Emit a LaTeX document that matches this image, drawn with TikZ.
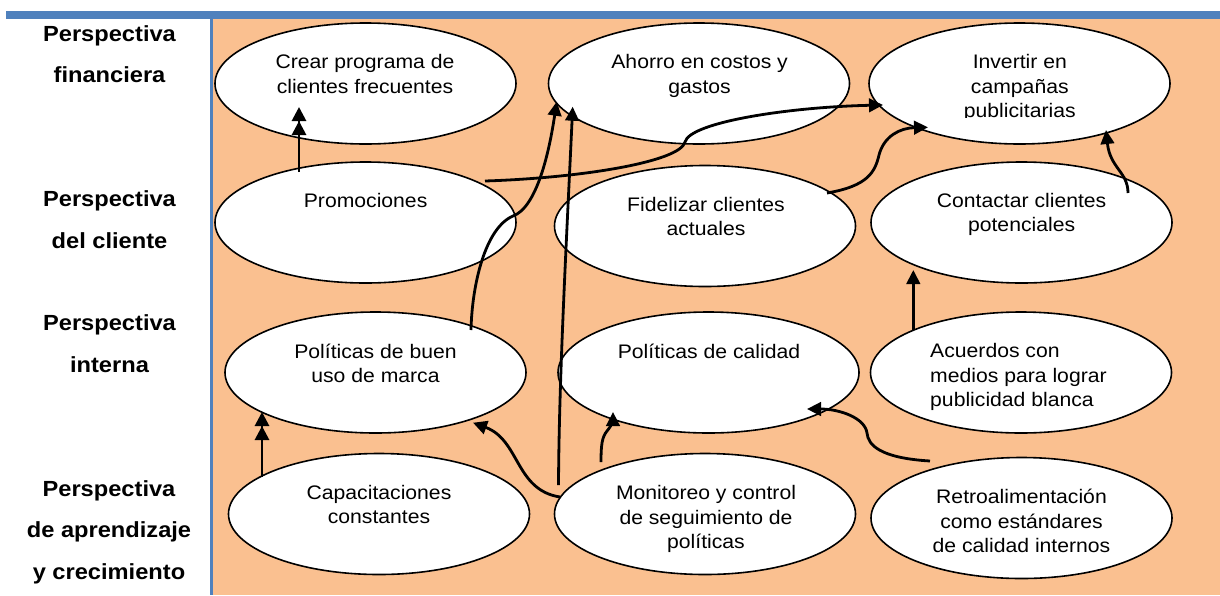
\documentclass[tikz,border=0pt]{standalone}
\usepackage{fontspec}
\setmainfont{Liberation Sans}[FakeStretch=1.08]
\usetikzlibrary{shapes.geometric,arrows.meta,calc}
\definecolor{orangebg}{RGB}{250,192,144}
\definecolor{bluebar}{RGB}{79,129,189}
\begin{document}
\begin{tikzpicture}[x=1pt,y=-1pt,
 oval/.style={ellipse, draw=black, line width=1.6pt, fill=white, inner sep=0pt, outer sep=0pt, minimum width=301pt, minimum height=121pt},
 txt/.style={font=\fontsize{19.6}{24.5}\selectfont, align=center, inner sep=0pt},
 lbl/.style={font=\fontsize{21.9}{41.5}\selectfont\bfseries, align=center, inner sep=0pt},
 conn/.style={line width=2.8pt, -{Triangle[length=14pt,width=13.5pt]}},
 dconn/.style={line width=2.8pt, -{Triangle[length=14pt,width=14pt,sep=0pt]Triangle[length=14pt,width=14pt]}}]
\useasboundingbox (0,0) rectangle (1220,595);
\fill[white] (0,0) rectangle (1220,595);
\fill[orangebg] (212,18) rectangle (1220,595);
\fill[bluebar] (6,11) rectangle (1220,18.5);
\fill[bluebar] (209.5,18) rectangle (212.5,595);

% row labels
\node[lbl] (l1) at (109.5,54) {Perspectiva\\financiera};
\node[lbl] (l2) at (109.5,219.5) {Perspectiva\\del cliente};
\node[lbl] (l3) at (109.5,343.5) {Perspectiva\\interna};
\node[lbl] (l4) at (109,532) {Perspectiva\\de aprendizaje\\y crecimiento};

% ellipses
\node[oval] (e1) at (365.5,83.5) {};
\node[oval] (e2) at (365.5,222.5) {};
\node[oval] (e3) at (699,83.5) {};
\node[oval] (e4) at (1019.5,83.5) {};
\node[oval] (e5) at (705,226) {};
\node[oval] (e6) at (1021.5,222.5) {};
\node[oval] (e7) at (375.5,372.5) {};
\node[oval] (e8) at (708.5,372.5) {};
\node[oval] (e9) at (1021,372.5) {};
\node[oval] (e10) at (379,514) {};
\node[oval] (e11) at (705,514) {};
\node[oval] (e12) at (1021.5,518) {};

% texts
\node[txt] (t1) at (365,74) {Crear programa de\\clientes frecuentes};
\node[txt] (t2) at (365.6,200) {Promociones};
\node[txt] (t3) at (699.6,76) {Ahorro en costos y\\gastos};
\begin{scope}
\clip (869,20) rectangle (1172,117.5);
\node[txt] (t4) at (1019.8,88) {Invertir en\\campañas\\publicitarias};
\end{scope}
\node[txt] (t5) at (706,216.5) {Fidelizar clientes\\actuales};
\node[txt] (t6) at (1021.6,214.5) {Contactar clientes\\potenciales};
\node[txt] (t7) at (375.5,363.5) {Políticas de buen\\uso de marca};
\node[txt] (t8) at (709,351) {Políticas de calidad};
\node[txt, align=left, anchor=west] (t9) at (930,377) {Acuerdos con\\medios para lograr\\publicidad blanca};
\node[txt] (t10) at (379,504.5) {Capacitaciones\\constantes};
\node[txt] (t11) at (706,519) {Monitoreo y control\\de seguimiento de\\políticas};
\node[txt] (t12) at (1021.5,521) {Retroalimentación\\como estándares\\de calidad internos};

% connectors
\draw[dconn] ($(e2)+(-66.5,-50.5)$) -- ($(e1)+(-66.5,23.5)$);
\draw[conn] ($(e7)+(95.5,-42.5)$) .. controls (472,285) and (485,228) .. (513,216) .. controls (535,208) and (548,160) .. ($(e3)+(-142.3,18.2)$);
\draw[conn] ($(e11)+(-146.5,-29)$) .. controls (559,380) and (566,250) .. ($(e3)+(-126.3,23.2)$);
\draw[conn] ($(e2)+(119.5,-41.5)$) .. controls (580,178) and (680,162) .. (685,142) .. controls (690,122) and (790,107) .. ($(e4)+(-136.5,21.5)$);
\draw[conn] ($(e5)+(122,-33)$) .. controls (868,186) and (875,172) .. (879,155) .. controls (884,136) and (900,128) .. ($(e4)+(-91.5,43.8)$);
\draw[conn] ($(e6)+(106.5,-29.5)$) .. controls (1128,172) and (1110,168) .. ($(e4)+(86.5,46.5)$);
\draw[conn] ($(e9)+(-107.7,-42.5)$) -- ($(e6)+(-108.2,47.5)$);
\draw[dconn] ($(e10)+(-117,-37.3)$) -- ($(e7)+(-113.5,39.5)$);
\draw[conn] ($(e11)+(-145,-17)$) .. controls (515,490) and (520,440) .. ($(e7)+(97.5,50.2)$);
\draw[conn] ($(e11)+(-104,-52)$) .. controls (601,445) and (602,437) .. (607,431) .. controls (612,425) and (613,420) .. ($(e8)+(-95.5,39.5)$);
\draw[conn] ($(e12)+(-91.5,-57)$) .. controls (880,458) and (868,445) .. (867,433) .. controls (865,418) and (840,409) .. ($(e8)+(98.5,36.5)$);
\end{tikzpicture}
\end{document}
